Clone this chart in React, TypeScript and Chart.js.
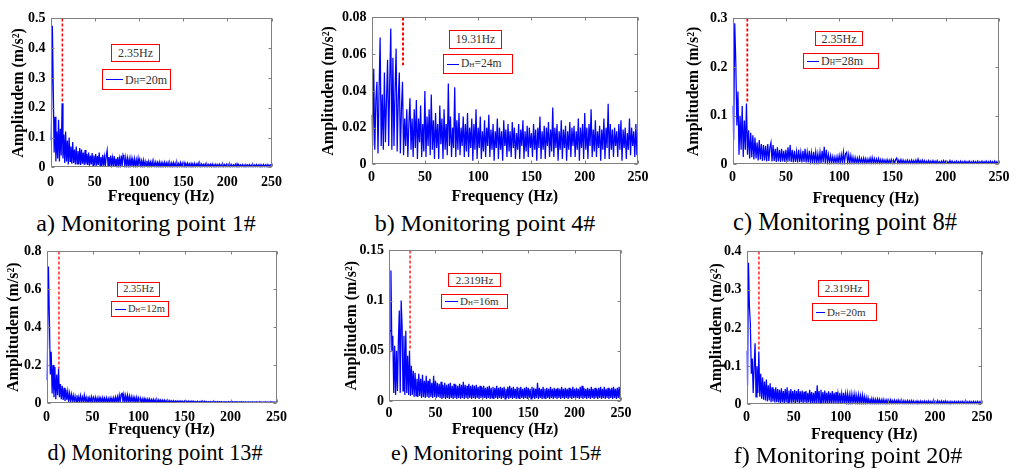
import React, { useEffect, useRef } from "react";
import { Chart, registerables } from "chart.js";

Chart.register(...registerables);

// ---------------- DATA ----------------
const FREQ_STEP = 1; // Hz between samples
const X_TICKS = [0, 50, 100, 150, 200, 250];

// a) Monitoring point 1#
const AMP_P1 = [
  0.09, 0.17, 0.475, 0.27, 0.05, 0.17, 0.02, 0.12, 0.03, 0.16,
  0.02, 0.13, 0.04, 0.215, 0.03, 0.11, 0.015, 0.12, 0.02, 0.09,
  0.01, 0.1, 0.02, 0.07, 0.012, 0.085, 0.015, 0.06, 0.01, 0.07,
  0.012, 0.055, 0.01, 0.065, 0.008, 0.06, 0.012, 0.05, 0.008, 0.058,
  0.01, 0.045, 0.008, 0.05, 0.006, 0.04, 0.01, 0.048, 0.006, 0.04,
  0.008, 0.045, 0.006, 0.038, 0.008, 0.05, 0.006, 0.035, 0.005, 0.042,
  0.006, 0.035, 0.005, 0.04, 0.058, 0.006, 0.035, 0.005, 0.04, 0.006,
  0.032, 0.005, 0.038, 0.006, 0.03, 0.005, 0.035, 0.004, 0.03, 0.006,
  0.04, 0.005, 0.042, 0.034, 0.005, 0.032, 0.004, 0.03, 0.005, 0.028,
  0.004, 0.03, 0.005, 0.026, 0.004, 0.028, 0.003, 0.025, 0.004, 0.03,
  0.004, 0.025, 0.003, 0.022, 0.004, 0.024, 0.003, 0.02, 0.004, 0.022,
  0.003, 0.02, 0.004, 0.018, 0.003, 0.02, 0.003, 0.017, 0.004, 0.018,
  0.003, 0.016, 0.003, 0.018, 0.002, 0.016, 0.003, 0.015, 0.003, 0.017,
  0.002, 0.015, 0.003, 0.016, 0.002, 0.014, 0.003, 0.015, 0.002, 0.016,
  0.003, 0.014, 0.002, 0.015, 0.003, 0.013, 0.002, 0.016, 0.003, 0.014,
  0.002, 0.016, 0.003, 0.013, 0.002, 0.014, 0.003, 0.012, 0.002, 0.013,
  0.003, 0.012, 0.002, 0.013, 0.002, 0.011, 0.003, 0.014, 0.002, 0.012,
  0.002, 0.011, 0.003, 0.01, 0.002, 0.011, 0.002, 0.01, 0.003, 0.01,
  0.002, 0.01, 0.002, 0.011, 0.002, 0.009, 0.002, 0.01, 0.002, 0.009,
  0.002, 0.01, 0.002, 0.009, 0.002, 0.01, 0.002, 0.009, 0.002, 0.01,
  0.002, 0.009, 0.002, 0.01, 0.002, 0.009, 0.002, 0.008, 0.002, 0.01,
  0.002, 0.012, 0.002, 0.009, 0.002, 0.008, 0.002, 0.009, 0.002, 0.008,
  0.002, 0.009, 0.002, 0.008, 0.002, 0.009, 0.002, 0.008, 0.002, 0.009,
  0.002, 0.008, 0.002, 0.009, 0.002, 0.008, 0.002, 0.009, 0.002, 0.008,
  0.002, 0.009, 0.002, 0.008, 0.002, 0.009, 0.002, 0.008, 0.002, 0.009,
  0.008,
];

// b) Monitoring point 4#
const AMP_P4 = [
  0.027, 0.01, 0.052, 0.008, 0.035, 0.045, 0.006, 0.04, 0.069, 0.01,
  0.038, 0.008, 0.05, 0.012, 0.035, 0.057, 0.01, 0.045, 0.074, 0.008,
  0.058, 0.01, 0.04, 0.063, 0.007, 0.035, 0.05, 0.006, 0.03, 0.045,
  0.005, 0.025, 0.01, 0.03, 0.004, 0.022, 0.036, 0.008, 0.025, 0.004,
  0.03, 0.009, 0.035, 0.003, 0.025, 0.012, 0.032, 0.004, 0.022, 0.007,
  0.04, 0.004, 0.026, 0.01, 0.03, 0.005, 0.038, 0.008, 0.024, 0.003,
  0.028, 0.009, 0.022, 0.003, 0.032, 0.011, 0.025, 0.003, 0.03, 0.008,
  0.022, 0.005, 0.044, 0.01, 0.026, 0.004, 0.02, 0.009, 0.042, 0.004,
  0.024, 0.008, 0.028, 0.005, 0.02, 0.01, 0.026, 0.004, 0.022, 0.007,
  0.028, 0.004, 0.02, 0.009, 0.025, 0.002, 0.022, 0.008, 0.03, 0.003,
  0.02, 0.009, 0.026, 0.003, 0.018, 0.007, 0.024, 0.004, 0.02, 0.01,
  0.027, 0.004, 0.019, 0.008, 0.022, 0.002, 0.018, 0.009, 0.025, 0.003,
  0.02, 0.008, 0.018, 0.002, 0.024, 0.01, 0.019, 0.004, 0.022, 0.007,
  0.018, 0.004, 0.023, 0.009, 0.02, 0.003, 0.017, 0.008, 0.022, 0.003,
  0.019, 0.01, 0.024, 0.003, 0.018, 0.007, 0.021, 0.004, 0.02, 0.009,
  0.017, 0.004, 0.022, 0.008, 0.019, 0.002, 0.02, 0.009, 0.026, 0.003,
  0.018, 0.008, 0.021, 0.003, 0.02, 0.01, 0.023, 0.004, 0.019, 0.007,
  0.031, 0.004, 0.02, 0.009, 0.022, 0.002, 0.018, 0.008, 0.024, 0.003,
  0.019, 0.009, 0.021, 0.002, 0.018, 0.008, 0.023, 0.004, 0.02, 0.01,
  0.021, 0.004, 0.018, 0.008, 0.025, 0.002, 0.02, 0.009, 0.022, 0.003,
  0.028, 0.008, 0.02, 0.003, 0.022, 0.01, 0.03, 0.004, 0.019, 0.007,
  0.024, 0.004, 0.018, 0.009, 0.021, 0.002, 0.019, 0.008, 0.025, 0.003,
  0.02, 0.009, 0.033, 0.003, 0.022, 0.008, 0.019, 0.004, 0.02, 0.01,
  0.018, 0.004, 0.022, 0.008, 0.024, 0.002, 0.019, 0.009, 0.02, 0.003,
  0.017, 0.008, 0.025, 0.005, 0.02, 0.01, 0.018, 0.004, 0.022, 0.005,
  0.02,
];

// c) Monitoring point 8#
const AMP_P8 = [
  0.12, 0.05, 0.29, 0.21, 0.08, 0.15, 0.02, 0.1, 0.03, 0.12,
  0.015, 0.09, 0.03, 0.125, 0.02, 0.07, 0.012, 0.065, 0.015, 0.06,
  0.01, 0.055, 0.012, 0.045, 0.008, 0.05, 0.01, 0.042, 0.007, 0.04,
  0.008, 0.038, 0.006, 0.042, 0.007, 0.035, 0.045, 0.006, 0.04, 0.007,
  0.032, 0.005, 0.035, 0.006, 0.03, 0.005, 0.032, 0.006, 0.028, 0.005,
  0.03, 0.005, 0.035, 0.006, 0.04, 0.005, 0.03, 0.004, 0.028, 0.005,
  0.026, 0.004, 0.03, 0.005, 0.025, 0.004, 0.028, 0.005, 0.032, 0.004,
  0.025, 0.004, 0.028, 0.005, 0.024, 0.003, 0.026, 0.004, 0.025, 0.003,
  0.022, 0.004, 0.025, 0.003, 0.028, 0.004, 0.036, 0.003, 0.03, 0.004,
  0.02, 0.003, 0.018, 0.004, 0.016, 0.003, 0.015, 0.003, 0.016, 0.003,
  0.018, 0.003, 0.02, 0.004, 0.025, 0.003, 0.022, 0.025, 0.003, 0.02,
  0.003, 0.018, 0.003, 0.015, 0.002, 0.014, 0.003, 0.013, 0.002, 0.014,
  0.003, 0.012, 0.002, 0.013, 0.003, 0.012, 0.002, 0.011, 0.003, 0.013,
  0.002, 0.014, 0.003, 0.012, 0.002, 0.011, 0.003, 0.012, 0.002, 0.01,
  0.002, 0.01, 0.003, 0.009, 0.002, 0.01, 0.002, 0.009, 0.003, 0.01,
  0.002, 0.009, 0.002, 0.01, 0.013, 0.002, 0.009, 0.002, 0.01, 0.002,
  0.009, 0.002, 0.008, 0.002, 0.009, 0.002, 0.008, 0.002, 0.009, 0.002,
  0.008, 0.002, 0.009, 0.002, 0.011, 0.002, 0.008, 0.002, 0.009, 0.002,
  0.008, 0.002, 0.007, 0.002, 0.008, 0.002, 0.007, 0.002, 0.008, 0.002,
  0.007, 0.002, 0.008, 0.002, 0.006, 0.002, 0.007, 0.002, 0.008, 0.002,
  0.007, 0.002, 0.006, 0.002, 0.008, 0.002, 0.007, 0.002, 0.006, 0.002,
  0.007, 0.002, 0.006, 0.002, 0.007, 0.002, 0.006, 0.002, 0.007, 0.002,
  0.006, 0.002, 0.007, 0.002, 0.006, 0.002, 0.007, 0.002, 0.006, 0.002,
  0.007, 0.002, 0.006, 0.002, 0.007, 0.002, 0.006, 0.002, 0.007, 0.002,
  0.006, 0.002, 0.007, 0.002, 0.006, 0.002, 0.007, 0.002, 0.006, 0.002,
  0.006,
];

// d) Monitoring point 13#
const AMP_P13 = [
  0.12, 0.3, 0.72, 0.46, 0.15, 0.27, 0.05, 0.2, 0.03, 0.19,
  0.02, 0.15, 0.04, 0.18, 0.03, 0.1, 0.02, 0.09, 0.015, 0.08,
  0.01, 0.07, 0.015, 0.06, 0.01, 0.05, 0.008, 0.045, 0.01, 0.04,
  0.006, 0.035, 0.008, 0.04, 0.006, 0.032, 0.005, 0.038, 0.006, 0.03,
  0.005, 0.04, 0.005, 0.03, 0.004, 0.034, 0.005, 0.028, 0.004, 0.032,
  0.004, 0.028, 0.005, 0.03, 0.004, 0.026, 0.004, 0.028, 0.003, 0.025,
  0.004, 0.028, 0.003, 0.025, 0.004, 0.027, 0.003, 0.024, 0.004, 0.026,
  0.003, 0.025, 0.004, 0.028, 0.003, 0.03, 0.004, 0.032, 0.004, 0.04,
  0.005, 0.045, 0.05, 0.005, 0.042, 0.004, 0.038, 0.005, 0.04, 0.004,
  0.035, 0.004, 0.032, 0.003, 0.03, 0.004, 0.028, 0.003, 0.03, 0.003,
  0.026, 0.003, 0.025, 0.003, 0.022, 0.003, 0.023, 0.002, 0.02, 0.003,
  0.021, 0.002, 0.02, 0.003, 0.018, 0.002, 0.019, 0.003, 0.017, 0.002,
  0.016, 0.002, 0.017, 0.002, 0.015, 0.002, 0.014, 0.002, 0.015, 0.002,
  0.013, 0.002, 0.012, 0.002, 0.013, 0.002, 0.011, 0.002, 0.012, 0.002,
  0.01, 0.002, 0.011, 0.002, 0.01, 0.002, 0.011, 0.002, 0.009, 0.002,
  0.01, 0.002, 0.009, 0.002, 0.01, 0.002, 0.009, 0.002, 0.01, 0.002,
  0.009, 0.002, 0.008, 0.002, 0.009, 0.002, 0.008, 0.002, 0.009, 0.002,
  0.008, 0.002, 0.009, 0.002, 0.008, 0.002, 0.007, 0.002, 0.008, 0.002,
  0.007, 0.002, 0.008, 0.002, 0.007, 0.002, 0.008, 0.002, 0.007, 0.002,
  0.007, 0.002, 0.006, 0.002, 0.007, 0.002, 0.006, 0.002, 0.007, 0.002,
  0.006, 0.002, 0.007, 0.002, 0.006, 0.002, 0.007, 0.002, 0.006, 0.002,
  0.006, 0.002, 0.007, 0.002, 0.006, 0.002, 0.006, 0.002, 0.005, 0.002,
  0.006, 0.002, 0.005, 0.002, 0.006, 0.002, 0.005, 0.002, 0.006, 0.002,
  0.005, 0.002, 0.006, 0.002, 0.005, 0.002, 0.005, 0.002, 0.006, 0.002,
  0.005, 0.002, 0.005, 0.002, 0.006, 0.002, 0.005, 0.002, 0.005, 0.002,
  0.005,
];

// e) Monitoring point 15#
const AMP_P15 = [
  0.02, 0.07, 0.13, 0.05, 0.065, 0.008, 0.055, 0.006, 0.05, 0.01,
  0.06, 0.09, 0.008, 0.1, 0.075, 0.01, 0.065, 0.006, 0.07, 0.008,
  0.045, 0.006, 0.05, 0.005, 0.035, 0.006, 0.03, 0.004, 0.028, 0.005,
  0.022, 0.004, 0.027, 0.005, 0.022, 0.003, 0.026, 0.004, 0.02, 0.003,
  0.025, 0.004, 0.02, 0.003, 0.022, 0.004, 0.018, 0.003, 0.025, 0.004,
  0.02, 0.003, 0.018, 0.004, 0.017, 0.003, 0.019, 0.002, 0.016, 0.003,
  0.018, 0.002, 0.016, 0.003, 0.017, 0.002, 0.018, 0.003, 0.015, 0.002,
  0.017, 0.003, 0.016, 0.002, 0.015, 0.003, 0.017, 0.002, 0.016, 0.003,
  0.019, 0.002, 0.016, 0.003, 0.015, 0.002, 0.017, 0.003, 0.015, 0.002,
  0.016, 0.003, 0.015, 0.002, 0.016, 0.003, 0.014, 0.002, 0.015, 0.003,
  0.014, 0.002, 0.015, 0.003, 0.013, 0.002, 0.014, 0.003, 0.015, 0.002,
  0.013, 0.003, 0.014, 0.002, 0.013, 0.003, 0.015, 0.002, 0.013, 0.003,
  0.014, 0.002, 0.013, 0.003, 0.014, 0.002, 0.012, 0.003, 0.014, 0.002,
  0.015, 0.003, 0.013, 0.002, 0.014, 0.003, 0.012, 0.002, 0.014, 0.003,
  0.013, 0.002, 0.014, 0.003, 0.012, 0.002, 0.013, 0.003, 0.014, 0.002,
  0.013, 0.003, 0.012, 0.002, 0.014, 0.003, 0.013, 0.002, 0.012, 0.003,
  0.018, 0.002, 0.013, 0.003, 0.012, 0.002, 0.014, 0.003, 0.012, 0.002,
  0.013, 0.003, 0.012, 0.002, 0.014, 0.003, 0.012, 0.002, 0.013, 0.003,
  0.012, 0.002, 0.013, 0.003, 0.012, 0.002, 0.014, 0.003, 0.012, 0.002,
  0.013, 0.003, 0.012, 0.002, 0.013, 0.003, 0.012, 0.002, 0.014, 0.003,
  0.012, 0.002, 0.013, 0.003, 0.012, 0.002, 0.014, 0.003, 0.015, 0.002,
  0.013, 0.003, 0.012, 0.002, 0.013, 0.003, 0.012, 0.002, 0.014, 0.003,
  0.012, 0.002, 0.013, 0.003, 0.012, 0.002, 0.013, 0.003, 0.014, 0.002,
  0.012, 0.003, 0.014, 0.002, 0.012, 0.003, 0.013, 0.002, 0.012, 0.003,
  0.013, 0.002, 0.014, 0.003, 0.012, 0.002, 0.013, 0.003, 0.014, 0.002,
  0.012,
];

// f) Monitoring point 20#
const AMP_P20 = [
  0.14, 0.05, 0.37, 0.255, 0.21, 0.08, 0.12, 0.03, 0.1, 0.16,
  0.02, 0.1, 0.03, 0.138, 0.02, 0.08, 0.015, 0.07, 0.012, 0.06,
  0.01, 0.065, 0.008, 0.05, 0.01, 0.055, 0.006, 0.045, 0.008, 0.04,
  0.005, 0.045, 0.006, 0.04, 0.005, 0.038, 0.004, 0.042, 0.005, 0.035,
  0.004, 0.04, 0.005, 0.045, 0.004, 0.036, 0.005, 0.04, 0.004, 0.035,
  0.005, 0.038, 0.004, 0.035, 0.005, 0.04, 0.004, 0.034, 0.005, 0.036,
  0.004, 0.033, 0.005, 0.035, 0.004, 0.03, 0.005, 0.038, 0.004, 0.032,
  0.004, 0.03, 0.003, 0.035, 0.004, 0.05, 0.004, 0.035, 0.003, 0.038,
  0.004, 0.032, 0.003, 0.036, 0.004, 0.03, 0.003, 0.034, 0.004, 0.03,
  0.003, 0.035, 0.004, 0.03, 0.003, 0.032, 0.004, 0.028, 0.003, 0.03,
  0.004, 0.028, 0.003, 0.03, 0.003, 0.027, 0.004, 0.028, 0.003, 0.025,
  0.003, 0.027, 0.003, 0.024, 0.003, 0.026, 0.003, 0.023, 0.003, 0.025,
  0.003, 0.022, 0.002, 0.024, 0.003, 0.02, 0.002, 0.018, 0.002, 0.017,
  0.002, 0.016, 0.002, 0.015, 0.002, 0.014, 0.002, 0.013, 0.002, 0.014,
  0.002, 0.013, 0.002, 0.012, 0.002, 0.013, 0.002, 0.011, 0.002, 0.012,
  0.002, 0.011, 0.002, 0.012, 0.002, 0.01, 0.002, 0.011, 0.002, 0.01,
  0.002, 0.011, 0.002, 0.01, 0.002, 0.009, 0.002, 0.01, 0.002, 0.009,
  0.002, 0.01, 0.002, 0.009, 0.002, 0.01, 0.002, 0.009, 0.002, 0.008,
  0.002, 0.009, 0.002, 0.008, 0.002, 0.009, 0.002, 0.008, 0.002, 0.009,
  0.002, 0.008, 0.002, 0.009, 0.002, 0.008, 0.002, 0.008, 0.002, 0.009,
  0.002, 0.008, 0.002, 0.01, 0.002, 0.008, 0.002, 0.009, 0.002, 0.008,
  0.002, 0.009, 0.002, 0.008, 0.002, 0.007, 0.002, 0.008, 0.002, 0.007,
  0.002, 0.008, 0.002, 0.007, 0.002, 0.008, 0.002, 0.007, 0.002, 0.008,
  0.002, 0.007, 0.002, 0.008, 0.002, 0.007, 0.002, 0.008, 0.002, 0.007,
  0.002, 0.008, 0.002, 0.007, 0.002, 0.008, 0.002, 0.007, 0.002, 0.008,
  0.007,
];

const Y_TICKS_P1 = [0, 0.1, 0.2, 0.3, 0.4, 0.5];
const Y_TICKS_P4 = [0, 0.02, 0.04, 0.06, 0.08];
const Y_TICKS_P8 = [0, 0.1, 0.2, 0.3];
const Y_TICKS_P13 = [0, 0.2, 0.4, 0.6, 0.8];
const Y_TICKS_P15 = [0, 0.05, 0.1, 0.15];
const Y_TICKS_P20 = [0, 0.1, 0.2, 0.3, 0.4];

const MARK_FREQS = [13.3, 29.5, 13.8, 13.4, 22.6, 13.1];
const MARK_LOWS = [0.215, 0.054, 0.125, 0.18, 0.05, 0.138];
const PEAK_LABELS = ["2.35Hz", "19.31Hz", "2.35Hz", "2.35Hz", "2.319Hz", "2.319Hz"];
const DEPTHS = ["20m", "24m", "28m", "12m", "16m", "20m"];
const CAPTIONS = [
  "a) Monitoring point 1#",
  "b) Monitoring point 4#",
  "c) Monitoring point 8#",
  "d) Monitoring point 13#",
  "e) Monitoring point 15#",
  "f) Monitoring point 20#",
];

// ---------------- LAYOUT ----------------
const SERIF = '"Liberation Serif", "Times New Roman", Times, serif';

type Layout = {
  plot: [number, number, number, number]; // L, T, R, B
  yTitleOff: number;
  xTitleOff: number;
  xLabelPad: number;
  peakBox: [number, number, number, number];
  legBox: [number, number, number, number];
  legLine: number;
  capX: number;
  capBase: number;
  capSize: number;
  boxFont: number;
  markWidth: number;
};

const LAYOUTS: Layout[] = [
  { plot: [51, 15, 273, 167], yTitleOff: 32, xTitleOff: 29, xLabelPad: 7, peakBox: [111, 44, 49, 18], legBox: [102, 69, 69, 21], legLine: 17, capX: 146, capBase: 231, capSize: 24, boxFont: 12, markWidth: 1.5 },
  { plot: [372, 14, 638, 164], yTitleOff: 43, xTitleOff: 32, xLabelPad: 5, peakBox: [449, 30, 53, 19], legBox: [443, 54, 70, 20], legLine: 12, capX: 485, capBase: 231, capSize: 24, boxFont: 11.5, markWidth: 2 },
  { plot: [733, 15, 999, 164], yTitleOff: 39, xTitleOff: 34, xLabelPad: 5, peakBox: [815, 31, 48, 15], legBox: [803, 53, 76, 16], legLine: 12, capX: 845, capBase: 230, capSize: 24.5, boxFont: 12, markWidth: 1.8 },
  { plot: [47, 248, 277, 403], yTitleOff: 33, xTitleOff: 26.5, xLabelPad: 6, peakBox: [117, 282, 43, 15], legBox: [111, 301, 58, 16], legLine: 11, capX: 155, capBase: 461, capSize: 22.2, boxFont: 10.5, markWidth: 1.3 },
  { plot: [389, 247, 621, 401], yTitleOff: 37.5, xTitleOff: 28.5, xLabelPad: 4, peakBox: [448, 273, 53, 14], legBox: [441, 294, 67, 15], legLine: 13, capX: 496, capBase: 461, capSize: 21.8, boxFont: 11, markWidth: 1.3 },
  { plot: [747, 248, 982, 404], yTitleOff: 30, xTitleOff: 30, xLabelPad: 5, peakBox: [818, 280, 51, 17], legBox: [812, 303, 65, 18], legLine: 9, capX: 848, capBase: 463, capSize: 24, boxFont: 11, markWidth: 1.3 },
];

const PANELS = [
  { amp: AMP_P1, yTicks: Y_TICKS_P1 },
  { amp: AMP_P4, yTicks: Y_TICKS_P4 },
  { amp: AMP_P8, yTicks: Y_TICKS_P8 },
  { amp: AMP_P13, yTicks: Y_TICKS_P13 },
  { amp: AMP_P15, yTicks: Y_TICKS_P15 },
  { amp: AMP_P20, yTicks: Y_TICKS_P20 },
].map((p, i) => ({
  ...p,
  markFreq: MARK_FREQS[i],
  markLow: MARK_LOWS[i],
  peakLabel: PEAK_LABELS[i],
  depth: DEPTHS[i],
  caption: CAPTIONS[i],
  layout: LAYOUTS[i],
}));

const framePlugin = {
  id: "matlabFrame",
  afterDatasetsDraw(chart: any) {
    const { ctx, chartArea: a, scales } = chart;
    ctx.save();
    ctx.strokeStyle = "#808080";
    ctx.lineWidth = 1;
    const l = Math.round(a.left) + 0.5;
    const t = Math.round(a.top) + 0.5;
    const r = Math.round(a.right) - 0.5;
    const b = Math.round(a.bottom) - 0.5;
    ctx.strokeRect(l, t, r - l, b - t);
    const tl = 3;
    ctx.beginPath();
    scales.x.ticks.forEach((tk: any) => {
      const x = Math.round(scales.x.getPixelForValue(tk.value)) + 0.5;
      ctx.moveTo(x, b);
      ctx.lineTo(x, b - tl);
      ctx.moveTo(x, t);
      ctx.lineTo(x, t + tl);
    });
    scales.y.ticks.forEach((tk: any) => {
      const y = Math.round(scales.y.getPixelForValue(tk.value)) + 0.5;
      ctx.moveTo(l, y);
      ctx.lineTo(l + tl, y);
      ctx.moveTo(r, y);
      ctx.lineTo(r - tl, y);
    });
    ctx.stroke();
    ctx.restore();
  },
};

function fmt(v: number) {
  return String(parseFloat(Number(v).toFixed(4)));
}

function SpectrumPanel({ p }: { p: (typeof PANELS)[number] }) {
  const ref = useRef<HTMLCanvasElement>(null);
  const [L, T, R, B] = p.layout.plot;
  const Wy = p.layout.yTitleOff + 9.6;
  const Hx = p.layout.xTitleOff + 9.6;
  const padT = 10;
  const padR = 16;
  const cw = Math.round(Wy + (R - L) + padR);
  const ch = Math.round(padT + (B - T) + Hx);
  const left = L - Wy;
  const top = T - padT;
  const yMax = p.yTicks[p.yTicks.length - 1];

  useEffect(() => {
    const tickFont = { family: SERIF, size: 14, weight: "bold" as const };
    const titleFont = { family: SERIF, size: 16, weight: "bold" as const };
    const chart = new Chart(ref.current as HTMLCanvasElement, {
      type: "line",
      data: {
        datasets: [
          {
            label: "D_H=" + p.depth,
            data: p.amp.map((v, i) => ({ x: i * FREQ_STEP, y: v })),
            borderColor: "#0000ff",
            borderWidth: 1.25,
            pointRadius: 0,
            tension: 0,
            fill: false,
          },
          {
            label: p.peakLabel,
            data: [
              { x: p.markFreq, y: yMax },
              { x: p.markFreq, y: p.markLow },
            ],
            borderColor: "#ff0000",
            borderWidth: p.layout.markWidth,
            borderDash: [3, 2],
            pointRadius: 0,
            fill: false,
          },
        ],
      },
      options: {
        animation: false,
        responsive: false,
        events: [],
        layout: { padding: { top: padT, right: padR, left: 0, bottom: 0 } },
        plugins: {
          legend: { display: false },
          tooltip: { enabled: false },
          title: { display: false },
        },
        scales: {
          x: {
            type: "linear",
            min: 0,
            max: 250,
            grid: { display: false, drawTicks: false },
            border: { display: false },
            afterFit: (s: any) => {
              s.height = Hx;
            },
            afterBuildTicks: (s: any) => {
              s.ticks = X_TICKS.map((v) => ({ value: v }));
            },
            ticks: {
              font: tickFont,
              color: "#000",
              padding: p.layout.xLabelPad,
              maxRotation: 0,
              autoSkip: false,
              callback: (v: any) => fmt(v),
            },
            title: {
              display: true,
              text: "Frequency (Hz)",
              font: titleFont,
              color: "#000",
              padding: 0,
            },
          },
          y: {
            type: "linear",
            min: 0,
            max: yMax,
            grid: { display: false, drawTicks: false },
            border: { display: false },
            afterFit: (s: any) => {
              s.width = Wy;
            },
            afterBuildTicks: (s: any) => {
              s.ticks = p.yTicks.map((v) => ({ value: v }));
            },
            ticks: {
              font: tickFont,
              color: "#000",
              padding: 5,
              autoSkip: false,
              callback: (v: any) => fmt(v),
            },
            title: {
              display: true,
              text: "Amplitudem (m/s²)",
              font: titleFont,
              color: "#000",
              padding: 0,
            },
          },
        },
      } as any,
      plugins: [framePlugin],
    });
    return () => chart.destroy();
  }, []);

  const [px, py, pw, ph] = p.layout.peakBox;
  const [lx, ly, lw, lh] = p.layout.legBox;
  const boxStyle: React.CSSProperties = {
    position: "absolute",
    boxSizing: "border-box",
    border: "1px solid #ff0000",
    background: "#fff",
    display: "flex",
    alignItems: "center",
    fontFamily: SERIF,
    fontSize: p.layout.boxFont,
    color: "#333",
    whiteSpace: "nowrap",
    lineHeight: 1,
  };

  return (
    <>
      <canvas
        ref={ref}
        width={cw}
        height={ch}
        style={{ position: "absolute", left, top, width: cw, height: ch }}
      />
      <div style={{ ...boxStyle, left: px, top: py, width: pw, height: ph, justifyContent: "center" }}>
        {p.peakLabel}
      </div>
      <div style={{ ...boxStyle, left: lx, top: ly, width: lw, height: lh, paddingLeft: 3 }}>
        <span
          style={{
            display: "block",
            flex: `0 0 ${p.layout.legLine}px`,
            width: p.layout.legLine,
            height: 1,
            background: "#0000ff",
            marginRight: 2,
          }}
        />
        <span>
          D<span style={{ fontSize: "0.62em" }}>H</span>={p.depth}
        </span>
      </div>
      <div
        style={{
          position: "absolute",
          left: p.layout.capX,
          top: p.layout.capBase - p.layout.capSize * 0.835,
          transform: "translateX(-50%)",
          fontFamily: SERIF,
          fontSize: p.layout.capSize,
          lineHeight: p.layout.capSize + "px",
          color: "#000",
          whiteSpace: "nowrap",
        }}
      >
        {p.caption}
      </div>
    </>
  );
}

export default function App() {
  return (
    <div
      style={{
        position: "absolute",
        left: 0,
        top: 0,
        width: 1019,
        height: 470,
        background: "#fff",
        overflow: "hidden",
      }}
    >
      {PANELS.map((p, i) => (
        <SpectrumPanel key={i} p={p} />
      ))}
    </div>
  );
}
